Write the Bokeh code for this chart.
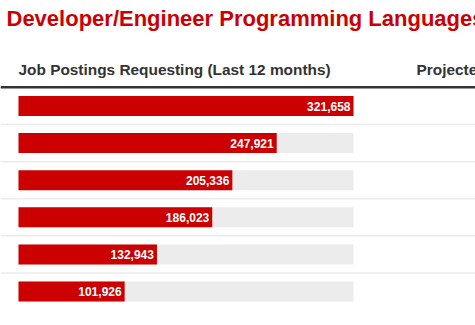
from bokeh.plotting import figure
from bokeh.models import Range1d, Label, Span, ColumnDataSource
from bokeh.core.properties import value
from bokeh.embed import file_html
from bokeh.resources import INLINE

# ---- data ----
title_text = "Developer/Engineer Programming Languages"
header_left = "Job Postings Requesting (Last 12 months)"
header_right = "Projected Growth (Next 10 years)"
postings = [321658, 247921, 205336, 186023, 132943, 101926]
posting_labels = ["321,658", "247,921", "205,336", "186,023", "132,943", "101,926"]

# ---- layout helpers (pixel -> data) ----
W, H = 475, 325
BAR_LEFT_PX, BAR_RIGHT_PX = 18, 353
ROW0_PX, ROW_PITCH = 105.5, 37.1
vmax = max(postings)
sx = vmax / (BAR_RIGHT_PX - BAR_LEFT_PX)


def px_x(px):
    return (px - BAR_LEFT_PX) * sx


def px_y(px):
    return (px - ROW0_PX) / ROW_PITCH


FONT = "Liberation Sans"
RED = "#cc0000"

p = figure(width=W, height=H, output_backend="svg", toolbar_location=None,
           x_range=Range1d(px_x(0), px_x(W)),
           y_range=Range1d(px_y(H), px_y(0)),
           min_border=0, min_border_left=0, min_border_right=0,
           min_border_top=0, min_border_bottom=0)
p.axis.visible = False
p.grid.visible = False
p.outline_line_color = None
p.background_fill_color = "white"
p.border_fill_color = "white"

rows = list(range(len(postings)))
src = ColumnDataSource(dict(y=rows, v=postings, lab=posting_labels,
                            full=[vmax] * len(postings)))

# row separators
for i in range(len(postings) - 1):
    p.add_layout(Span(location=i + 0.5, dimension="width",
                      line_color="#ebebeb", line_width=1.5))

# header rule
p.add_layout(Span(location=px_y(86.7), dimension="width",
                  line_color="#333333", line_width=2.5))

bar_h = 20 / ROW_PITCH
p.hbar(y="y", left=0, right="full", height=bar_h, source=src,
       fill_color="#ececec", line_color=None)
p.hbar(y="y", left=0, right="v", height=bar_h, source=src,
       fill_color=RED, line_color=None)
p.text(x="v", y="y", text="lab", source=src, x_offset=-3,
       text_align="right", text_baseline="middle",
       text_color="white", text_font=value(FONT),
       text_font_size="12px", text_font_style="bold")

p.add_layout(Label(x=px_x(6), y=px_y(18), text=title_text,
                   text_font=FONT, text_font_size="22px",
                   text_font_style="bold", text_color=RED,
                   text_align="left", text_baseline="alphabetic"))
p.add_layout(Label(x=px_x(18), y=px_y(68.5), text=header_left,
                   text_font=FONT, text_font_size="15.4px",
                   text_font_style="bold", text_color="#333333",
                   text_align="left", text_baseline="alphabetic"))
p.add_layout(Label(x=px_x(416), y=px_y(68.5), text=header_right,
                   text_font=FONT, text_font_size="15.4px",
                   text_font_style="bold", text_color="#333333",
                   text_align="left", text_baseline="alphabetic"))

open("out.html", "w").write(file_html(p, INLINE))
